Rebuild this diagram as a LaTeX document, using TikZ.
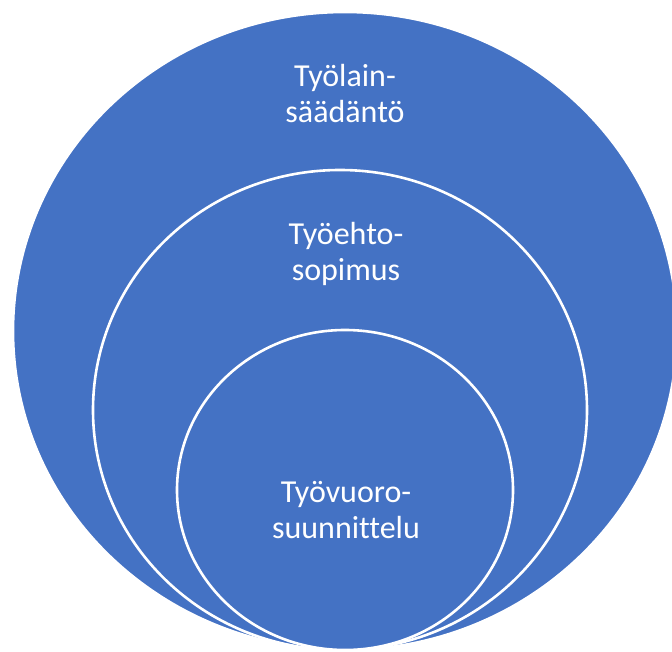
\documentclass[tikz,border=0pt]{standalone}
\usepackage{fontspec}
\setmainfont{Carlito}[Ligatures=NoCommon]
\usepackage{tikz}
\definecolor{officeblue}{RGB}{68,114,196}

\begin{document}
\begin{tikzpicture}[x=1pt, y=-1pt,
	ring/.style={fill=officeblue, draw=white, line width=2.6pt},
	label/.style={text=white, align=center, font=\fontsize{32}{36}\selectfont}]

	% page frame
	\useasboundingbox (0,0) rectangle (672,652);
	\clip (0,0) rectangle (672,652);

	% nested ellipses
	\draw[ring] (345,331) ellipse [x radius=332pt, y radius=319pt];
	\draw[ring] (340,410) ellipse [x radius=247pt, y radius=240pt];
	\draw[ring] (345,490) ellipse [x radius=168pt, y radius=160pt];

	% labels
	\node[label] (laki) at (345,94) {Työlain-\\säädäntö};
	\node[label] (tes) at (346,254) {Työehto-\\sopimus};
	\node[label] (vuoro) at (346,510) {Työvuoro-\\suunnittelu};

\end{tikzpicture}
\end{document}
